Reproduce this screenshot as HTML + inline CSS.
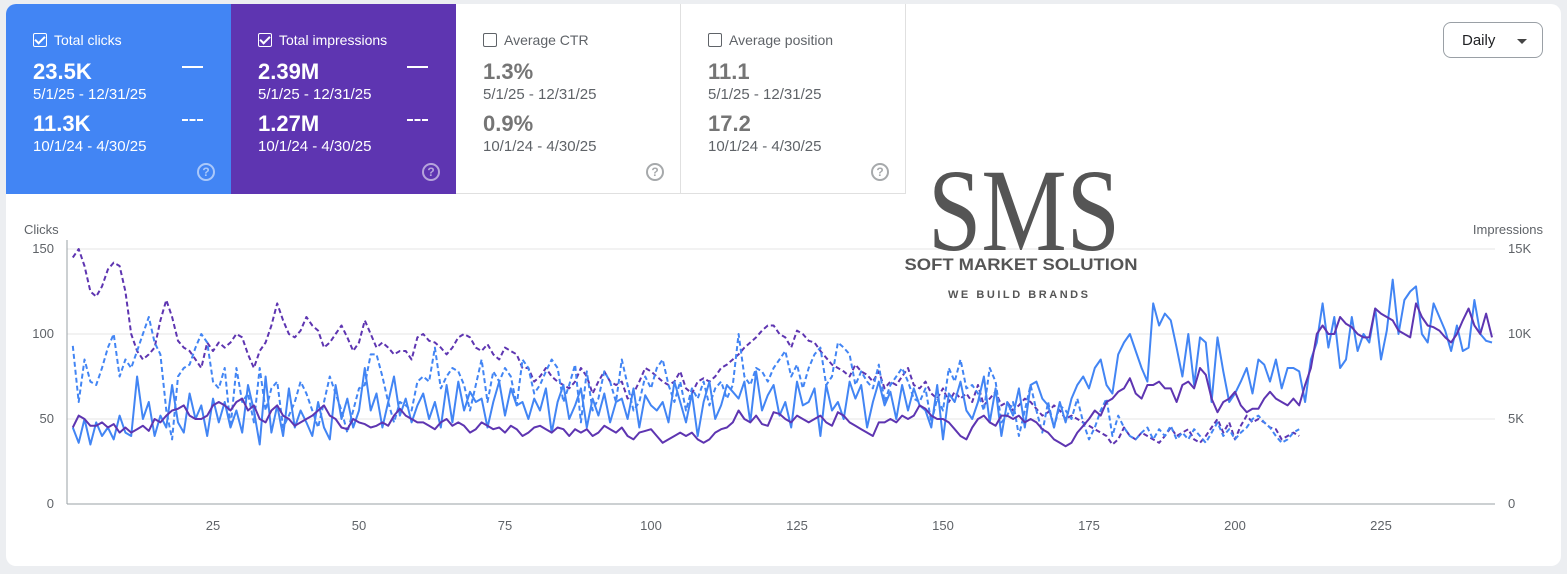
<!DOCTYPE html>
<html><head><meta charset="utf-8"><style>
*{box-sizing:border-box}
body{margin:0;width:1567px;height:574px;background:#eceef1;font-family:"Liberation Sans",Arial,sans-serif;overflow:hidden;position:relative}
#panel{position:absolute;left:6px;top:4px;width:1555px;height:562px;background:#fff;border-radius:10px;overflow:hidden}
.card{position:absolute;top:0;width:225px;height:190px;padding:0 0 0 27px}
.card .t{position:absolute;left:27px;top:28px;font-size:14px;display:flex;align-items:center}
.cb{width:14px;height:14px;border:1.6px solid currentColor;border-radius:2px;margin-right:7px;position:relative;display:inline-block}
.cb.on:after{content:"";position:absolute;left:3px;top:0px;width:4px;height:8px;border:solid currentColor;border-width:0 2px 2px 0;transform:rotate(45deg)}
.v{position:absolute;left:27px;font-size:22px;font-weight:bold}
.d{position:absolute;left:27px;font-size:15px}
.ln{position:absolute;right:28px;width:21px;height:0;border-top:2px solid currentColor}
.ln.dash{border-top-style:dashed}
.q{position:absolute;right:16px;top:159px;width:18px;height:18px;border:2px solid currentColor;border-radius:50%;font-size:12px;font-weight:bold;text-align:center;line-height:14px;opacity:.55}
.c3{color:#5f6368;border-right:1px solid #e0e0e0;border-bottom:1px solid #e0e0e0}
.c3 .v{color:#757575}
</style></head><body>
<div id="panel">
<div class="card" style="left:0;background:#4285f4;color:#fff">
 <div class="t"><span class="cb on"></span>Total clicks</div>
 <div class="v" style="top:55px">23.5K</div><div class="ln" style="top:62px"></div>
 <div class="d" style="top:82px">5/1/25 - 12/31/25</div>
 <div class="v" style="top:107px">11.3K</div><div class="ln dash" style="top:115px"></div>
 <div class="d" style="top:134px">10/1/24 - 4/30/25</div>
 <div class="q">?</div>
</div>
<div class="card" style="left:225px;background:#5e35b1;color:#fff">
 <div class="t"><span class="cb on"></span>Total impressions</div>
 <div class="v" style="top:55px">2.39M</div><div class="ln" style="top:62px"></div>
 <div class="d" style="top:82px">5/1/25 - 12/31/25</div>
 <div class="v" style="top:107px">1.27M</div><div class="ln dash" style="top:115px"></div>
 <div class="d" style="top:134px">10/1/24 - 4/30/25</div>
 <div class="q">?</div>
</div>
<div class="card c3" style="left:450px">
 <div class="t"><span class="cb"></span>Average CTR</div>
 <div class="v" style="top:55px">1.3%</div>
 <div class="d" style="top:82px">5/1/25 - 12/31/25</div>
 <div class="v" style="top:107px">0.9%</div>
 <div class="d" style="top:134px">10/1/24 - 4/30/25</div>
 <div class="q">?</div>
</div>
<div class="card c3" style="left:675px">
 <div class="t"><span class="cb"></span>Average position</div>
 <div class="v" style="top:55px">11.1</div>
 <div class="d" style="top:82px">5/1/25 - 12/31/25</div>
 <div class="v" style="top:107px">17.2</div>
 <div class="d" style="top:134px">10/1/24 - 4/30/25</div>
 <div class="q">?</div>
</div>
<div style="position:absolute;left:1437px;top:18px;width:100px;height:36px;border:1px solid #9aa0a6;border-radius:8px;font-size:15px;color:#202124;padding:9px 0 0 18px">Daily<span style="position:absolute;right:15px;top:16px;border:5px solid transparent;border-top:5px solid #444"></span></div>
</div>
<svg id="chart" width="1567" height="574" style="position:absolute;left:0;top:0"></svg>
<script>
const clicksCur=[45,36,50,35,48,40,45,38,52,42,40,75,50,60,40,52,45,70,48,42,65,50,58,40,62,48,60,45,55,42,70,55,35,75,42,58,40,68,45,55,48,40,60,45,38,70,50,62,45,55,80,55,65,45,60,75,52,62,48,58,65,50,60,45,70,48,72,55,66,60,62,45,60,72,52,68,58,60,50,62,55,68,42,60,70,50,58,68,45,62,52,65,48,60,62,50,68,45,64,58,55,60,48,72,60,48,65,40,60,72,50,58,70,66,62,72,48,78,55,64,70,52,60,45,72,58,60,68,40,70,55,60,50,72,62,70,45,60,72,58,66,50,70,55,68,58,55,45,70,38,65,60,72,55,50,60,75,48,68,40,60,52,68,45,70,72,62,58,45,60,48,62,70,75,68,80,85,70,65,88,95,100,90,80,72,118,105,112,108,92,75,100,70,98,95,60,98,78,60,65,72,80,65,85,82,72,85,68,80,80,78,60,85,95,118,92,110,80,85,110,90,100,95,115,85,102,132,100,120,125,128,100,95,118,110,102,90,105,90,92,120,100,96,95];
const imprCur=[45,52,50,46,46,48,45,47,42,45,42,44,46,43,50,48,52,55,56,58,52,50,50,52,58,60,58,55,60,62,55,58,50,48,55,58,52,50,46,48,50,52,55,58,52,50,45,44,50,48,47,45,46,48,46,52,56,52,50,48,48,46,44,48,50,46,48,46,42,44,48,46,44,45,42,46,44,40,42,45,46,44,42,45,44,40,44,42,44,40,42,46,44,42,45,40,38,42,43,44,40,36,38,40,42,40,42,38,36,38,42,44,45,48,55,50,48,52,47,46,54,53,50,48,52,50,48,50,52,48,46,54,52,48,46,44,42,40,48,48,50,48,52,50,52,58,56,52,50,50,48,44,40,38,45,50,52,48,46,52,52,50,52,48,50,48,44,42,38,36,34,36,42,46,50,55,52,60,62,66,68,74,65,62,70,70,72,68,68,60,70,72,68,80,76,62,54,60,62,66,58,54,56,56,62,66,62,60,58,62,58,70,80,100,105,100,100,110,106,104,100,98,98,115,112,110,108,102,100,98,118,110,105,104,102,98,95,100,108,115,105,100,112,98];
const clicksPrev=[93,60,85,72,70,80,92,100,75,85,80,90,100,110,95,88,55,38,75,80,82,92,100,95,72,68,80,45,80,60,65,48,80,55,68,72,45,52,60,72,65,55,45,60,75,65,55,42,55,68,70,88,88,75,60,48,60,58,55,72,75,72,92,68,75,80,78,70,55,70,85,60,78,72,80,75,58,85,80,65,70,78,85,80,60,70,82,48,78,55,62,78,72,60,85,70,55,60,75,68,80,85,70,60,72,55,68,62,72,58,68,72,62,70,100,75,70,80,78,72,80,85,90,75,82,68,80,88,92,70,75,95,92,88,70,78,72,68,82,60,70,75,80,72,62,60,68,48,62,55,80,72,85,68,70,65,55,80,72,48,52,60,40,55,70,55,42,60,45,58,55,50,62,48,38,45,55,62,40,52,45,40,38,42,45,38,44,40,46,38,42,38,44,40,36,42,48,40,44,38,42,45,50,52,48,45,40,36,38,42,44];
const imprPrev=[145,150,140,125,122,128,138,142,140,125,100,90,85,88,92,108,120,110,96,92,90,85,80,95,90,95,92,95,100,98,88,80,90,95,105,118,108,100,98,102,110,105,102,92,95,100,105,98,90,95,108,100,92,95,92,88,90,90,85,98,100,96,95,92,88,92,98,100,98,92,90,94,88,85,92,90,88,80,80,72,75,80,75,72,70,68,72,80,75,65,72,78,72,70,72,62,65,72,80,78,75,72,70,72,78,68,65,72,74,72,75,80,82,85,88,92,95,98,102,105,105,100,98,92,102,100,96,95,90,86,82,80,78,75,82,78,76,72,78,68,72,70,75,80,70,68,72,65,62,68,60,66,62,65,60,70,58,62,66,58,60,55,58,62,60,56,52,54,58,55,50,52,50,48,46,44,42,40,35,38,45,40,38,42,40,38,36,40,45,40,42,44,38,36,40,45,50,42,48,38,46,52,48,50,48,45,44,38,40,42,40];
const leftTicks=["0","50","100","150"];
const rightTicks=["0","5K","10K","15K"];
const xTicks=[25,50,75,100,125,150,175,200,225];

const NS="http://www.w3.org/2000/svg";
const svg=document.getElementById('chart');
const x=d=>67+(d)*5.84;
const y=v=>504-v*1.7;
function mk(tag,attrs){const e=document.createElementNS(NS,tag);for(const k in attrs)e.setAttribute(k,attrs[k]);svg.appendChild(e);return e;}
function txt(s,a){const e=mk('text',a);e.textContent=s;return e;}
leftTicks.forEach((t,i)=>{
  const v=i*50;
  const g=mk('line',{x1:67,x2:1495,y1:y(v),y2:y(v),stroke:i==0?'#9aa0a6':'#e6e6e6','stroke-width':1});
  
  
  const l=txt(t,{x:54,y:y(v)+4,'text-anchor':'end','font-size':13,fill:'#5f6368'});
  
  
  const r=txt(rightTicks[i],{x:1508,y:y(v)+4,'font-size':13,fill:'#5f6368'});
  
  
});
const ax=mk('line',{x1:67,x2:67,y1:240,y2:504,stroke:'#9aa0a6'});


xTicks.forEach(d=>{
  const t=txt(String(d),{x:x(d),y:530,'text-anchor':'middle','font-size':13,fill:'#5f6368'});
  
  
});
const yt=txt('Clicks',{x:24,y:234,'font-size':13,fill:'#5f6368'});


const yt2=txt('Impressions',{x:1543,y:234,'text-anchor':'end','font-size':13,fill:'#5f6368'});


const w1=txt('SMS',{x:1024,y:250,'text-anchor':'middle','font-size':118,'font-family':'Liberation Serif,serif',fill:'#555','textLength':192,'lengthAdjust':'spacingAndGlyphs'});


const w2=txt('SOFT MARKET SOLUTION',{x:1021,y:270,'text-anchor':'middle','font-size':17,'font-weight':'bold',fill:'#555','textLength':233,'lengthAdjust':'spacingAndGlyphs'});


const w3=txt('WE BUILD BRANDS',{x:1018,y:298,'text-anchor':'middle','font-size':11,'font-weight':'bold',fill:'#555','textLength':140,'lengthAdjust':'spacing'});


function series(arr,scale,color,dash,name){
  const pts=arr.map((v,i)=>x(i+1).toFixed(1)+','+y(v*scale).toFixed(1)).join(' ');
  const p=mk('polyline',{points:pts,fill:'none',stroke:color,'stroke-width':2,'stroke-linejoin':'round'});
  if(dash)p.setAttribute('stroke-dasharray','5,3');
  
  
}
series(imprPrev,1,'#5e35b1',true,'impressions-previous-line');
series(clicksPrev,1,'#4285f4',true,'clicks-previous-line');
series(clicksCur,1,'#4285f4',false,'clicks-current-line');
series(imprCur,1,'#5e35b1',false,'impressions-current-line');
</script>
</body></html>
